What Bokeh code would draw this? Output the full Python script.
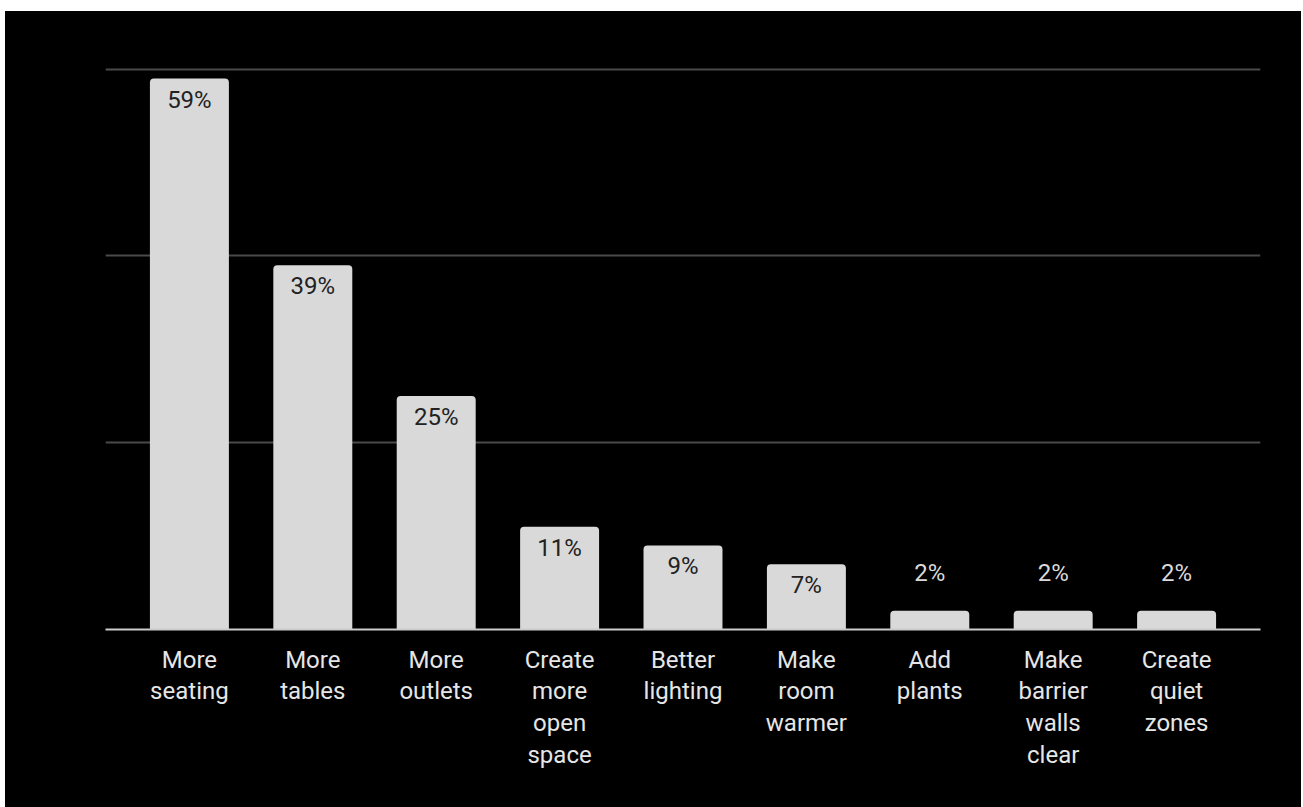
from bokeh.plotting import figure
from bokeh.models import ColumnDataSource, FactorRange, Range1d, LabelSet, SingleIntervalTicker
from bokeh.core.properties import value
from bokeh.embed import file_html
from bokeh.resources import INLINE

categories = ["More\nseating", "More\ntables", "More\noutlets", "Create\nmore\nopen\nspace",
              "Better\nlighting", "Make\nroom\nwarmer", "Add\nplants", "Make\nbarrier\nwalls\nclear",
              "Create\nquiet\nzones"]
values = [59, 39, 25, 11, 9, 7, 2, 2, 2]
labels = [f"{v}%" for v in values]

inside_threshold = 5
src_bars = ColumnDataSource(dict(cat=categories, val=values))
src_in = ColumnDataSource(dict(cat=[c for c, v in zip(categories, values) if v > inside_threshold],
                               val=[v for v in values if v > inside_threshold],
                               lab=[l for l, v in zip(labels, values) if v > inside_threshold]))
src_out = ColumnDataSource(dict(cat=[c for c, v in zip(categories, values) if v <= inside_threshold],
                                val=[v for v in values if v <= inside_threshold],
                                lab=[l for l, v in zip(labels, values) if v <= inside_threshold]))

p = figure(width=1296, height=796, output_backend="svg", toolbar_location=None,
           x_range=FactorRange(factors=categories, range_padding=0.04),
           y_range=Range1d(0, 60.4), y_axis_location=None,
           background_fill_color="black", border_fill_color="black",
           outline_line_color=None,
           min_border_left=100, min_border_right=41, min_border_top=54, min_border_bottom=178)
p.margin = (11, 0, 0, 5)
p.styles = {"background-color": "black"}

p.vbar(x="cat", top="val", source=src_bars, width=0.64, fill_color="#d9d9d9",
       line_color=None, border_radius=(4, 4, 0, 0))

p.add_layout(LabelSet(x="cat", y="val", text="lab", source=src_in, y_offset=-21,
                      text_align="center", text_baseline="middle", text_color="#222222",
                      text_font=value("Roboto"), text_font_size="24px"))
p.add_layout(LabelSet(x="cat", y="val", text="lab", source=src_out, y_offset=38,
                      text_align="center", text_baseline="middle", text_color="#d9d9d9",
                      text_font=value("Roboto"), text_font_size="24px"))

p.ygrid.ticker = SingleIntervalTicker(interval=20)
p.ygrid.grid_line_color = "#4a4a4a"
p.ygrid.grid_line_width = 2
p.xgrid.grid_line_color = None
p.xgrid.visible = False

ax = p.xaxis[0]
ax.axis_line_color = "#cccccc"
ax.axis_line_width = 2
ax.major_tick_line_color = None
ax.minor_tick_line_color = None
ax.major_label_text_color = "#e6e6e6"
ax.major_label_text_font = "Roboto"
ax.major_label_text_font_size = "24px"
ax.major_label_text_line_height = 1.14
ax.major_label_standoff = 10
ax.major_label_orientation = "horizontal"

open("out.html", "w").write(file_html(p, INLINE))
